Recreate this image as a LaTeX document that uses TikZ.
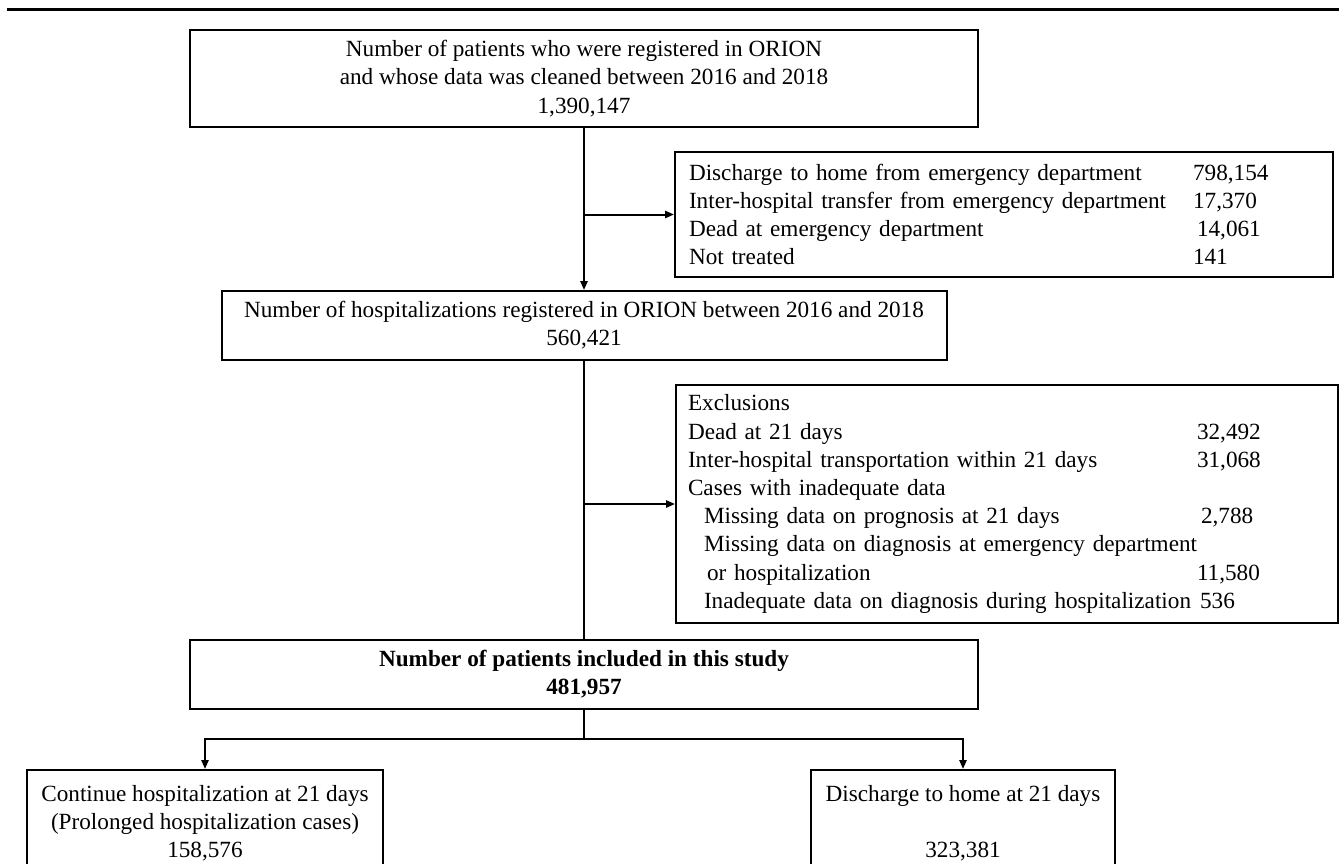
\documentclass[tikz,border=0pt]{standalone}
\usepackage{fontspec}
\setmainfont{Liberation Serif}
\usetikzlibrary{arrows.meta}

\begin{document}
\begin{tikzpicture}
[x=0.5pt,y=-0.5pt,
every node/.style={font=\fontsize{11.6}{14.1}\selectfont},
box/.style={draw,line width=1pt,inner sep=0pt,align=center},
listbox/.style={draw,line width=1pt,inner ysep=0pt,align=left},
arr/.style={line width=1pt,-{Triangle[length=4.5pt,width=3.6pt]}},
link/.style={line width=1pt}]
\useasboundingbox (0,0) rectangle (1339,863);
\clip (0,0) rectangle (1339,863);
\draw[line width=1.5pt] (7,9) -- (1339,9);
% main column
\node[box,minimum width=394pt,minimum height=48.5pt] (reg) at (584,78.5)
{Number of patients who were registered in ORION\\and whose data was cleaned between 2016 and 2018\\1,390,147};
\node[box,minimum width=362.5pt,minimum height=34.5pt] (hosp) at (584,325.5)
{Number of hospitalizations registered in ORION between 2016 and 2018\\560,421};
\node[box,font=\fontsize{11.6}{14.1}\selectfont\bfseries,minimum width=394pt,minimum height=34.5pt] (study) at (584,674.5)
{Number of patients included in this study\\481,957};
% side boxes
\node[listbox,text width=315pt,inner xsep=7pt,minimum height=62.5pt] (ed) at (1004,214.5)
{\makebox[252pt][l]{Discharge to home from emergency department}798,154\\
\makebox[252pt][l]{Inter-hospital transfer from emergency department}17,370\\
\makebox[254pt][l]{Dead at emergency department}14,061\\
\makebox[252pt][l]{Not treated}141};
\node[listbox,text width=319pt,inner xsep=6pt,minimum height=119pt] (excl) at (1007,504)
{Exclusions\\
\makebox[254.5pt][l]{Dead at 21 days}32,492\\
\makebox[254.5pt][l]{Inter-hospital transportation within 21 days}31,068\\
Cases with inadequate data\\
\hspace*{8pt}\makebox[248.5pt][l]{Missing data on prognosis at 21 days}2,788\\
\hspace*{8pt}Missing data on diagnosis at emergency department\\
\hspace*{9.5pt}\makebox[245pt][l]{or hospitalization}11,580\\
\hspace*{8pt}\makebox[248pt][l]{Inadequate data on diagnosis during hospitalization}536};
% outcomes
\node[box,minimum width=178pt,minimum height=53pt] (prolong) at (205,823)
{Continue hospitalization at 21 days\\(Prolonged hospitalization cases)\\158,576};
\node[box,minimum width=152pt,minimum height=53pt] (home) at (963,823)
{Discharge to home at 21 days\\\mbox{}\\323,381};
\coordinate (split) at (584,739);
\draw[arr] (reg.south) -- (reg.south |- hosp.north);
\draw[arr] (reg.south |- ed.west) -- (ed.west);
\draw[link] (hosp.south) -- (hosp.south |- study.north);
\draw[arr] (hosp.south |- excl.west) -- (excl.west);
\draw[link] (study.south) -- (split);
\draw[arr] (split) -| (prolong.north);
\draw[arr] (split) -| (home.north);
\end{tikzpicture}
\end{document}
